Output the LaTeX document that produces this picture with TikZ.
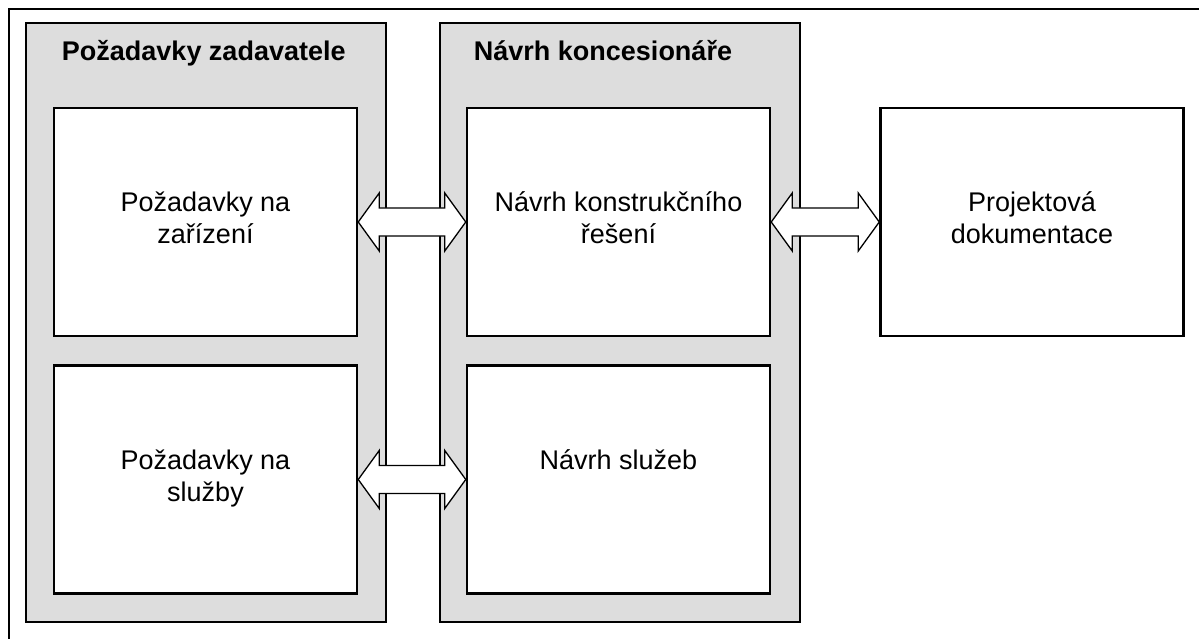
\documentclass[tikz,border=0pt]{standalone}
\usepackage{fontspec}
\setmainfont{Liberation Sans}
\usetikzlibrary{calc, positioning}
\definecolor{panelgray}{RGB}{221,221,221}

\begin{document}
\begin{tikzpicture}[
    x=1pt, y=-1pt,
    panel/.style={draw, line width=2.5pt, fill=panelgray, minimum width=360pt, minimum height=599pt, inner sep=0pt},
    box/.style={draw, line width=2.5pt, fill=white, minimum width=303pt, minimum height=228pt, inner sep=0pt},
    head/.style={font=\fontsize{27}{32}\selectfont\bfseries, anchor=base west, inner sep=0pt},
    txt/.style={font=\fontsize{27}{32}\selectfont, align=center, anchor=base, inner sep=0pt},
    fatarrow/.style={draw, line width=1.3pt, fill=white, line join=miter, to path={
        (\tikztostart.east) -- ($(\tikztostart.east)+(21,-29)$) -- ($(\tikztostart.east)+(21,-14)$)
        -- ($(\tikztotarget.west)+(-21,-14)$) -- ($(\tikztotarget.west)+(-21,-29)$) -- (\tikztotarget.west)
        -- ($(\tikztotarget.west)+(-21,29)$) -- ($(\tikztotarget.west)+(-21,14)$)
        -- ($(\tikztostart.east)+(21,14)$) -- ($(\tikztostart.east)+(21,29)$) -- cycle}},
]
    \useasboundingbox (0,0) rectangle (1199,639);
    % Frame
    \draw[line width=1.8pt] (9,639) -- (9,9) -- (1199,9);

    % Panels
    \node[panel] (zadavatel) at (206,322.5) {};
    \node[panel] (koncesionar) at (620,322.5) {};
    \node[head] at ($(zadavatel.north west)+(37,39)$) {Požadavky zadavatele};
    \node[head] at ($(koncesionar.north west)+(35,39)$) {Návrh koncesionáře};

    % Boxes
    \node[box] (zarizeni) at (205.5,222) {};
    \node[box] (sluzby) at (205.5,479.5) {};
    \node[box] (konstrukce) at (618.5,222) {};
    \node[box] (navrhsluzeb) at (618.5,479.5) {};
    \node[box] (projekt) at (1032,222) {};

    % Texts (base = last line)
    \node[txt] at ($(zarizeni.north)+(0,137)$) {Požadavky na\\zařízení};
    \node[txt] at ($(sluzby.north)+(0,137)$) {Požadavky na\\služby};
    \node[txt] at ($(konstrukce.north)+(0,137)$) {Návrh konstrukčního\\řešení};
    \node[txt] at ($(navrhsluzeb.north)+(0,105)$) {Návrh služeb};
    \node[txt] at ($(projekt.north)+(0,137)$) {Projektová\\dokumentace};

    % Connections
    \draw[fatarrow] (zarizeni) to (konstrukce);
    \draw[fatarrow] (sluzby) to (navrhsluzeb);
    \draw[fatarrow] (konstrukce) to (projekt);

\end{tikzpicture}
\end{document}
